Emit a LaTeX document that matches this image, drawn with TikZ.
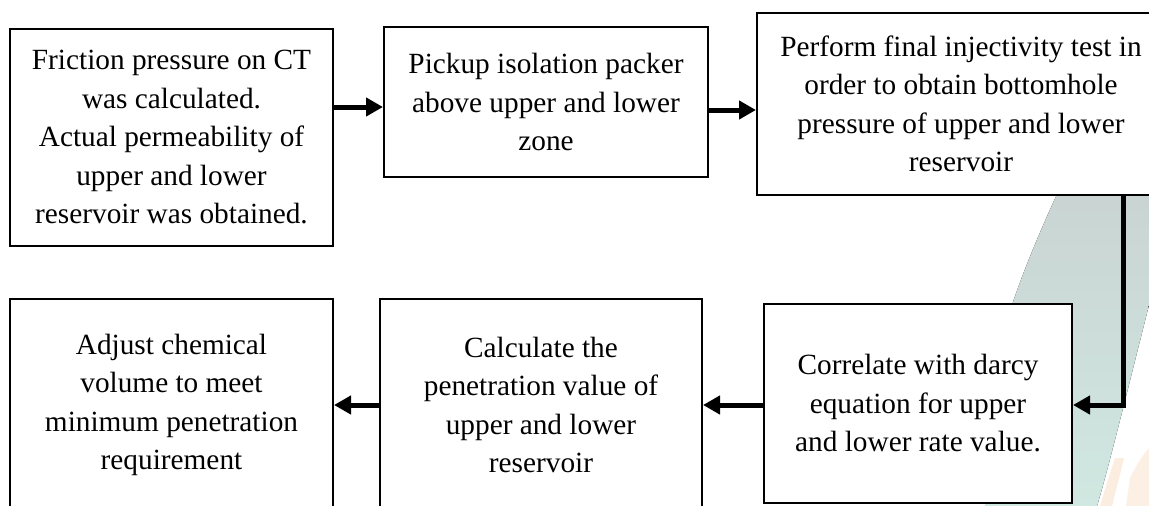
\documentclass[tikz,border=0pt]{standalone}
\usepackage{fontspec}
\setmainfont{Liberation Serif}
\usetikzlibrary{arrows.meta}
\definecolor{wmgray}{RGB}{200,207,207}
\definecolor{wmteal}{RGB}{208,232,225}
\definecolor{wmorange}{RGB}{250,230,212}
\tikzset{
  stepbox/.style={draw=black, line width=2pt, fill=white, align=center,
    inner sep=4pt, font=\fontsize{29.3pt}{38.5pt}\selectfont},
  flow/.style={line width=5pt, -{Triangle[length=17pt,width=18pt]}}
}
\begin{document}
\begin{tikzpicture}[x=1pt, y=-1pt]
  \useasboundingbox (0,0) rectangle (1149,506);
  \clip (0,0) rectangle (1149,506);
  \fill[white] (0,0) rectangle (1149,506);

  % faint crescent logo in the lower right corner
  \fill[top color=wmgray, bottom color=wmteal]
    (1100,110) .. controls (1072,158) and (1032,245) .. (1012,305)
    .. controls (992,380) and (985,450) .. (985,506)
    -- (1097,506) .. controls (1108,470) and (1130,380) .. (1149,305)
    -- (1149,110) -- cycle;
  \fill[wmorange, opacity=0.7]
    (1100,506) .. controls (1106,486) and (1111,470) .. (1115,458)
    -- (1124,458) .. controls (1120,475) and (1116,490) .. (1112,506) -- cycle;
  \fill[wmorange, opacity=0.6]
    (1130,478) .. controls (1136,466) and (1142,456) .. (1149,448)
    -- (1149,506) -- (1126,506) -- cycle;

  % process steps
  \node[stepbox, minimum width=323pt, minimum height=217pt] (b1) at (171.5,137.5)
    {Friction pressure on CT\\was calculated.\\Actual permeability of\\upper and lower\\reservoir was obtained.};
  \node[stepbox, minimum width=324pt, minimum height=150pt] (b2) at (546,102)
    {Pickup isolation packer\\above upper and lower\\zone};
  \node[stepbox, minimum width=408pt, minimum height=182pt] (b3) at (961,104)
    {Perform final injectivity test in\\order to obtain bottomhole\\pressure of upper and lower\\reservoir};
  \node[stepbox, minimum width=308pt, minimum height=199pt] (b4) at (918,403.5)
    {Correlate with darcy\\equation for upper\\and lower rate value.};
  \node[stepbox, minimum width=322pt, minimum height=212pt] (b5) at (541,405)
    {Calculate the\\penetration value of\\upper and lower\\reservoir};
  \node[stepbox, minimum width=323pt, minimum height=212pt] (b6) at (171.5,405)
    {Adjust chemical\\volume to meet\\minimum penetration\\requirement};

  % connectors
  \draw[flow] (b1.east |- 0,107) -- (b2.west |- 0,107);
  \draw[flow] (b2.east |- 0,110) -- (b3.west |- 0,110);
  \draw[flow] (b3.south -| 1123,0) |- (b4.east |- 0,405);
  \draw[flow] (b4.west |- 0,405) -- (b5.east |- 0,405);
  \draw[flow] (b5.west |- 0,405) -- (b6.east |- 0,405);
\end{tikzpicture}
\end{document}
